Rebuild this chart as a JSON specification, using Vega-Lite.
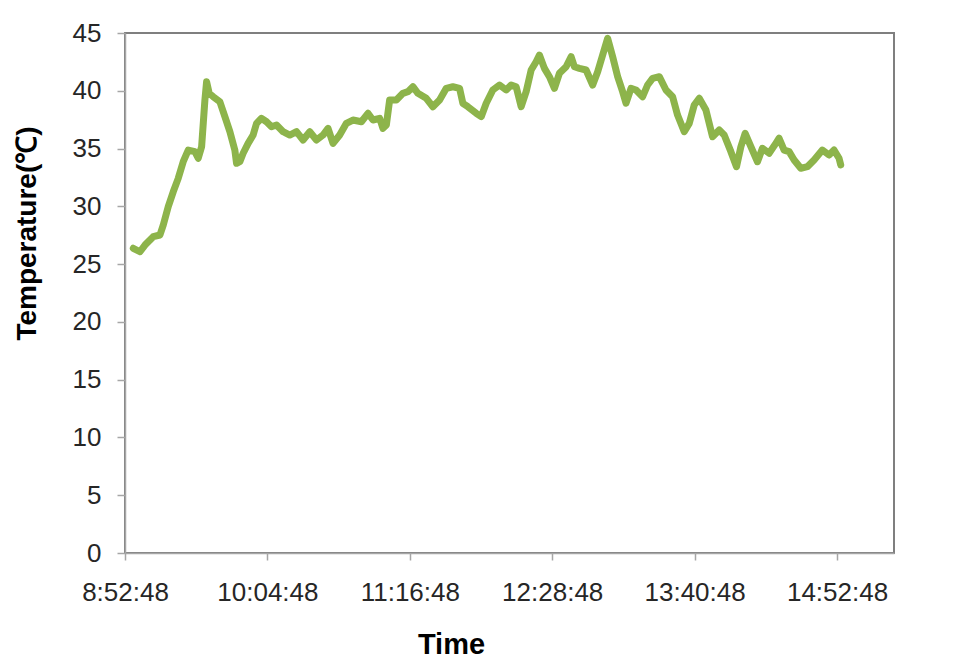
{
  "$schema": "https://vega.github.io/schema/vega-lite/v6.json",
  "autosize": "none",
  "width": 769,
  "height": 520,
  "padding": {"left": 125, "top": 33, "right": 60, "bottom": 105},
  "background": "white",
  "config": {
    "font": "Liberation Sans",
    "view": {"stroke": "#7f7f7f", "strokeWidth": 2},
    "axis": {
      "grid": false,
      "domainColor": "#a6a6a6",
      "domainWidth": 1.5,
      "tickColor": "#a6a6a6",
      "tickWidth": 1.5,
      "labelFont": "Liberation Sans",
      "labelFontSize": 26,
      "labelColor": "#262626",
      "titleFont": "Liberation Sans",
      "titleColor": "#000000",
      "titleFontWeight": "bold"
    }
  },
  "data": {
    "values": [
      {"t": "8:56:59", "temp": 26.37},
      {"t": "9:00:22", "temp": 26.07},
      {"t": "9:02:54", "temp": 26.65},
      {"t": "9:07:05", "temp": 27.37},
      {"t": "9:10:28", "temp": 27.52},
      {"t": "9:12:08", "temp": 28.38},
      {"t": "9:14:40", "temp": 29.97},
      {"t": "9:17:11", "temp": 31.26},
      {"t": "9:19:43", "temp": 32.42},
      {"t": "9:22:14", "temp": 33.86},
      {"t": "9:24:46", "temp": 34.87},
      {"t": "9:28:09", "temp": 34.73},
      {"t": "9:29:49", "temp": 34.16},
      {"t": "9:31:32", "temp": 35.16},
      {"t": "9:33:12", "temp": 39.2},
      {"t": "9:34:03", "temp": 40.78},
      {"t": "9:35:22", "temp": 39.78},
      {"t": "9:37:23", "temp": 39.49},
      {"t": "9:40:46", "temp": 39.05},
      {"t": "9:43:18", "temp": 37.76},
      {"t": "9:45:49", "temp": 36.46},
      {"t": "9:48:20", "temp": 34.87},
      {"t": "9:49:12", "temp": 33.72},
      {"t": "9:50:52", "temp": 33.86},
      {"t": "9:52:32", "temp": 34.59},
      {"t": "9:55:03", "temp": 35.45},
      {"t": "9:57:35", "temp": 36.17},
      {"t": "9:59:18", "temp": 37.18},
      {"t": "10:01:49", "temp": 37.62},
      {"t": "10:04:21", "temp": 37.32},
      {"t": "10:06:52", "temp": 36.89},
      {"t": "10:09:24", "temp": 37.04},
      {"t": "10:12:44", "temp": 36.46},
      {"t": "10:16:07", "temp": 36.17},
      {"t": "10:19:30", "temp": 36.46},
      {"t": "10:22:50", "temp": 35.74},
      {"t": "10:26:13", "temp": 36.46},
      {"t": "10:29:36", "temp": 35.74},
      {"t": "10:32:55", "temp": 36.17},
      {"t": "10:35:27", "temp": 36.75},
      {"t": "10:37:59", "temp": 35.45},
      {"t": "10:41:21", "temp": 36.17},
      {"t": "10:44:44", "temp": 37.18},
      {"t": "10:48:04", "temp": 37.47},
      {"t": "10:52:19", "temp": 37.32},
      {"t": "10:55:39", "temp": 38.05},
      {"t": "10:58:10", "temp": 37.47},
      {"t": "11:01:33", "temp": 37.62},
      {"t": "11:03:13", "temp": 36.75},
      {"t": "11:04:56", "temp": 37.04},
      {"t": "11:06:36", "temp": 39.2},
      {"t": "11:09:59", "temp": 39.2},
      {"t": "11:13:19", "temp": 39.78},
      {"t": "11:15:51", "temp": 39.92},
      {"t": "11:18:22", "temp": 40.35},
      {"t": "11:20:54", "temp": 39.78},
      {"t": "11:25:08", "temp": 39.35},
      {"t": "11:28:28", "temp": 38.62},
      {"t": "11:31:51", "temp": 39.2},
      {"t": "11:35:14", "temp": 40.21},
      {"t": "11:38:34", "temp": 40.35},
      {"t": "11:41:57", "temp": 40.21},
      {"t": "11:43:37", "temp": 38.92},
      {"t": "11:46:08", "temp": 38.62},
      {"t": "11:50:23", "temp": 38.05},
      {"t": "11:52:54", "temp": 37.76},
      {"t": "11:55:26", "temp": 38.92},
      {"t": "11:58:46", "temp": 40.07},
      {"t": "12:02:09", "temp": 40.5},
      {"t": "12:05:32", "temp": 40.07},
      {"t": "12:08:03", "temp": 40.5},
      {"t": "12:10:34", "temp": 40.35},
      {"t": "12:13:06", "temp": 38.62},
      {"t": "12:15:37", "temp": 39.92},
      {"t": "12:18:09", "temp": 41.8},
      {"t": "12:20:40", "temp": 42.51},
      {"t": "12:22:20", "temp": 43.09},
      {"t": "12:24:52", "temp": 41.94},
      {"t": "12:27:23", "temp": 41.22},
      {"t": "12:29:55", "temp": 40.21},
      {"t": "12:32:26", "temp": 41.51},
      {"t": "12:35:49", "temp": 42.08},
      {"t": "12:38:20", "temp": 42.95},
      {"t": "12:40:01", "temp": 42.08},
      {"t": "12:42:32", "temp": 41.94},
      {"t": "12:45:55", "temp": 41.8},
      {"t": "12:49:15", "temp": 40.5},
      {"t": "12:51:47", "temp": 41.65},
      {"t": "12:54:18", "temp": 43.09},
      {"t": "12:56:50", "temp": 44.54},
      {"t": "12:59:21", "temp": 42.95},
      {"t": "13:01:53", "temp": 41.22},
      {"t": "13:04:24", "temp": 39.92},
      {"t": "13:06:07", "temp": 38.92},
      {"t": "13:08:38", "temp": 40.21},
      {"t": "13:11:10", "temp": 40.07},
      {"t": "13:14:30", "temp": 39.49},
      {"t": "13:17:01", "temp": 40.5},
      {"t": "13:19:33", "temp": 41.08},
      {"t": "13:22:56", "temp": 41.22},
      {"t": "13:26:19", "temp": 40.07},
      {"t": "13:29:39", "temp": 39.49},
      {"t": "13:32:10", "temp": 37.9},
      {"t": "13:35:33", "temp": 36.46},
      {"t": "13:38:05", "temp": 37.18},
      {"t": "13:40:36", "temp": 38.77},
      {"t": "13:43:08", "temp": 39.35},
      {"t": "13:46:31", "temp": 38.33},
      {"t": "13:49:51", "temp": 36.02},
      {"t": "13:53:14", "temp": 36.6},
      {"t": "13:55:45", "temp": 36.17},
      {"t": "13:59:08", "temp": 34.73},
      {"t": "14:01:58", "temp": 33.43},
      {"t": "14:04:11", "temp": 35.16},
      {"t": "14:06:21", "temp": 36.32},
      {"t": "14:09:14", "temp": 35.16},
      {"t": "14:12:34", "temp": 33.86},
      {"t": "14:15:05", "temp": 35.02},
      {"t": "14:18:28", "temp": 34.59},
      {"t": "14:21:51", "temp": 35.45},
      {"t": "14:23:31", "temp": 35.89},
      {"t": "14:26:03", "temp": 34.87},
      {"t": "14:28:34", "temp": 34.73},
      {"t": "14:31:06", "temp": 34.01},
      {"t": "14:34:29", "temp": 33.29},
      {"t": "14:37:49", "temp": 33.43},
      {"t": "14:41:12", "temp": 34.01},
      {"t": "14:45:23", "temp": 34.87},
      {"t": "14:48:46", "temp": 34.44},
      {"t": "14:51:17", "temp": 34.87},
      {"t": "14:53:49", "temp": 34.16},
      {"t": "14:54:40", "temp": 33.58}
    ],
    "format": {"parse": {"t": "date:'%H:%M:%S'"}}
  },
  "mark": {"type": "line", "color": "#8db44b", "strokeWidth": 7, "strokeJoin": "round", "strokeCap": "round"},
  "encoding": {
    "x": {
      "field": "t",
      "type": "temporal",
      "scale": {
        "domain": [
          {"year": 1900, "month": 1, "date": 1, "hours": 8, "minutes": 52, "seconds": 48},
          {"year": 1900, "month": 1, "date": 1, "hours": 15, "minutes": 21, "seconds": 36}
        ],
        "nice": false
      },
      "axis": {
        "values": [
          {"year": 1900, "month": 1, "date": 1, "hours": 8, "minutes": 52, "seconds": 48},
          {"year": 1900, "month": 1, "date": 1, "hours": 10, "minutes": 4, "seconds": 48},
          {"year": 1900, "month": 1, "date": 1, "hours": 11, "minutes": 16, "seconds": 48},
          {"year": 1900, "month": 1, "date": 1, "hours": 12, "minutes": 28, "seconds": 48},
          {"year": 1900, "month": 1, "date": 1, "hours": 13, "minutes": 40, "seconds": 48},
          {"year": 1900, "month": 1, "date": 1, "hours": 14, "minutes": 52, "seconds": 48}
        ],
        "format": "%-H:%M:%S",
        "tickSize": 7,
        "labelPadding": 19,
        "labelFlush": false,
        "labelOverlap": false,
        "title": "Time",
        "titleFontSize": 29,
        "titleX": 326,
        "titleY": 100,
        "titleAlign": "center",
        "titleBaseline": "alphabetic"
      }
    },
    "y": {
      "field": "temp",
      "type": "quantitative",
      "scale": {"domain": [0, 45], "nice": false, "zero": true},
      "axis": {
        "values": [0, 5, 10, 15, 20, 25, 30, 35, 40, 45],
        "tickSize": 8,
        "labelPadding": 16,
        "title": "Temperature(℃)",
        "titleFontSize": 28,
        "titleAngle": 270,
        "titleX": -90,
        "titleY": 200,
        "titleAlign": "center",
        "titleBaseline": "alphabetic"
      }
    }
  }
}
